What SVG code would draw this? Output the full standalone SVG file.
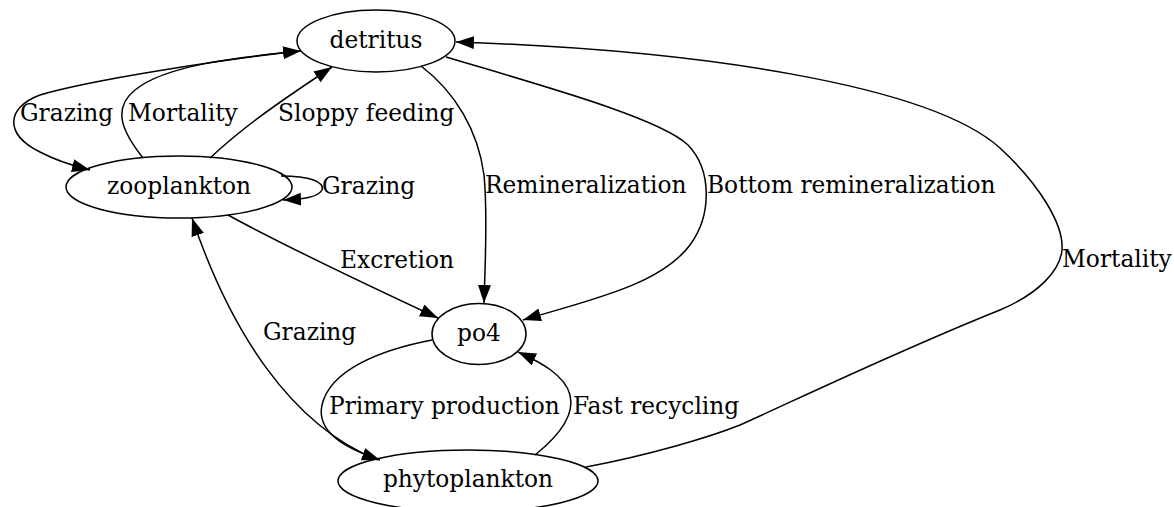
<svg xmlns="http://www.w3.org/2000/svg" width="1174" height="507" viewBox="0 0 1174 507">
<style>
.n ellipse{fill:none;stroke:#000;stroke-width:1.5}
text{font-family:"DejaVu Serif",serif;font-size:23.3px;fill:#000}
.n text{text-anchor:middle}
.e path{fill:none;stroke:#000;stroke-width:1.5;marker-end:url(#ah)}
</style>
<defs>
<marker id="ah" markerUnits="userSpaceOnUse" markerWidth="20" markerHeight="16" refX="18" refY="6.5" orient="auto">
<path d="M0,0 L18,6.5 L0,13 Z" fill="#000"/>
</marker>
</defs>
<rect width="1174" height="507" fill="#fff"/>
<g id="connectors" class="e">
<path id="e-det-zoo-grazing" d="M299,51 C220,60 90,80 40,95 C5,108 5,135 40,152 C55,160 70,165 90,170"/>
<path id="e-zoo-det-mortality" d="M143,158 C125,135 110,110 135,90 C165,65 240,57 301,51"/>
<path id="e-zoo-det-sloppy" d="M210,158 C240,130 270,108 332,67"/>
<path id="e-zoo-zoo-grazing" d="M281,176 C310,176 325,182 322,190 C318,197 305,199 283,200"/>
<path id="e-det-po4-remin" d="M421,66 C455,92 478,130 484,175 C488,215 485,265 484,303"/>
<path id="e-det-po4-bottom" d="M446,57 C540,85 660,118 688,145 C712,170 712,215 690,245 C660,285 590,300 523,320"/>
<path id="e-phy-det-mortality" d="M586,467 C650,455 710,437 740,425 C800,398 900,350 1000,310 C1040,293 1060,270 1062,250 C1064,225 1040,185 1000,148 C930,85 700,50 456,42"/>
<path id="e-zoo-po4-excretion" d="M228,215 C270,238 350,277 438,318"/>
<path id="e-phy-zoo-grazing" d="M378,460 C290,425 230,330 192,218"/>
<path id="e-po4-phy-primary" d="M432,340 C380,350 330,370 322,405 C316,432 345,448 380,460"/>
<path id="e-phy-po4-fast" d="M535,455 C560,435 575,415 570,395 C565,375 540,362 518,352"/>
<text x="20" y="121">Grazing</text>
<text x="128" y="121">Mortality</text>
<text x="278" y="121">Sloppy feeding</text>
<text x="322" y="194">Grazing</text>
<text x="485" y="193">Remineralization</text>
<text x="707" y="193">Bottom remineralization</text>
<text x="1062" y="267">Mortality</text>
<text x="340" y="268">Excretion</text>
<text x="263" y="340">Grazing</text>
<text x="329" y="414">Primary production</text>
<text x="573" y="414">Fast recycling</text>
</g>
<g id="detritus" class="n"><ellipse cx="376" cy="41" rx="79" ry="31"/><text x="376" y="48">detritus</text></g>
<g id="zooplankton" class="n"><ellipse cx="179" cy="187" rx="113" ry="31"/><text x="179" y="194">zooplankton</text></g>
<g id="po4" class="n"><ellipse cx="479" cy="334" rx="47" ry="30.5"/><text x="479" y="341">po4</text></g>
<g id="phytoplankton" class="n"><ellipse cx="468" cy="481" rx="130" ry="31"/><text x="468" y="487">phytoplankton</text></g>
</svg>
